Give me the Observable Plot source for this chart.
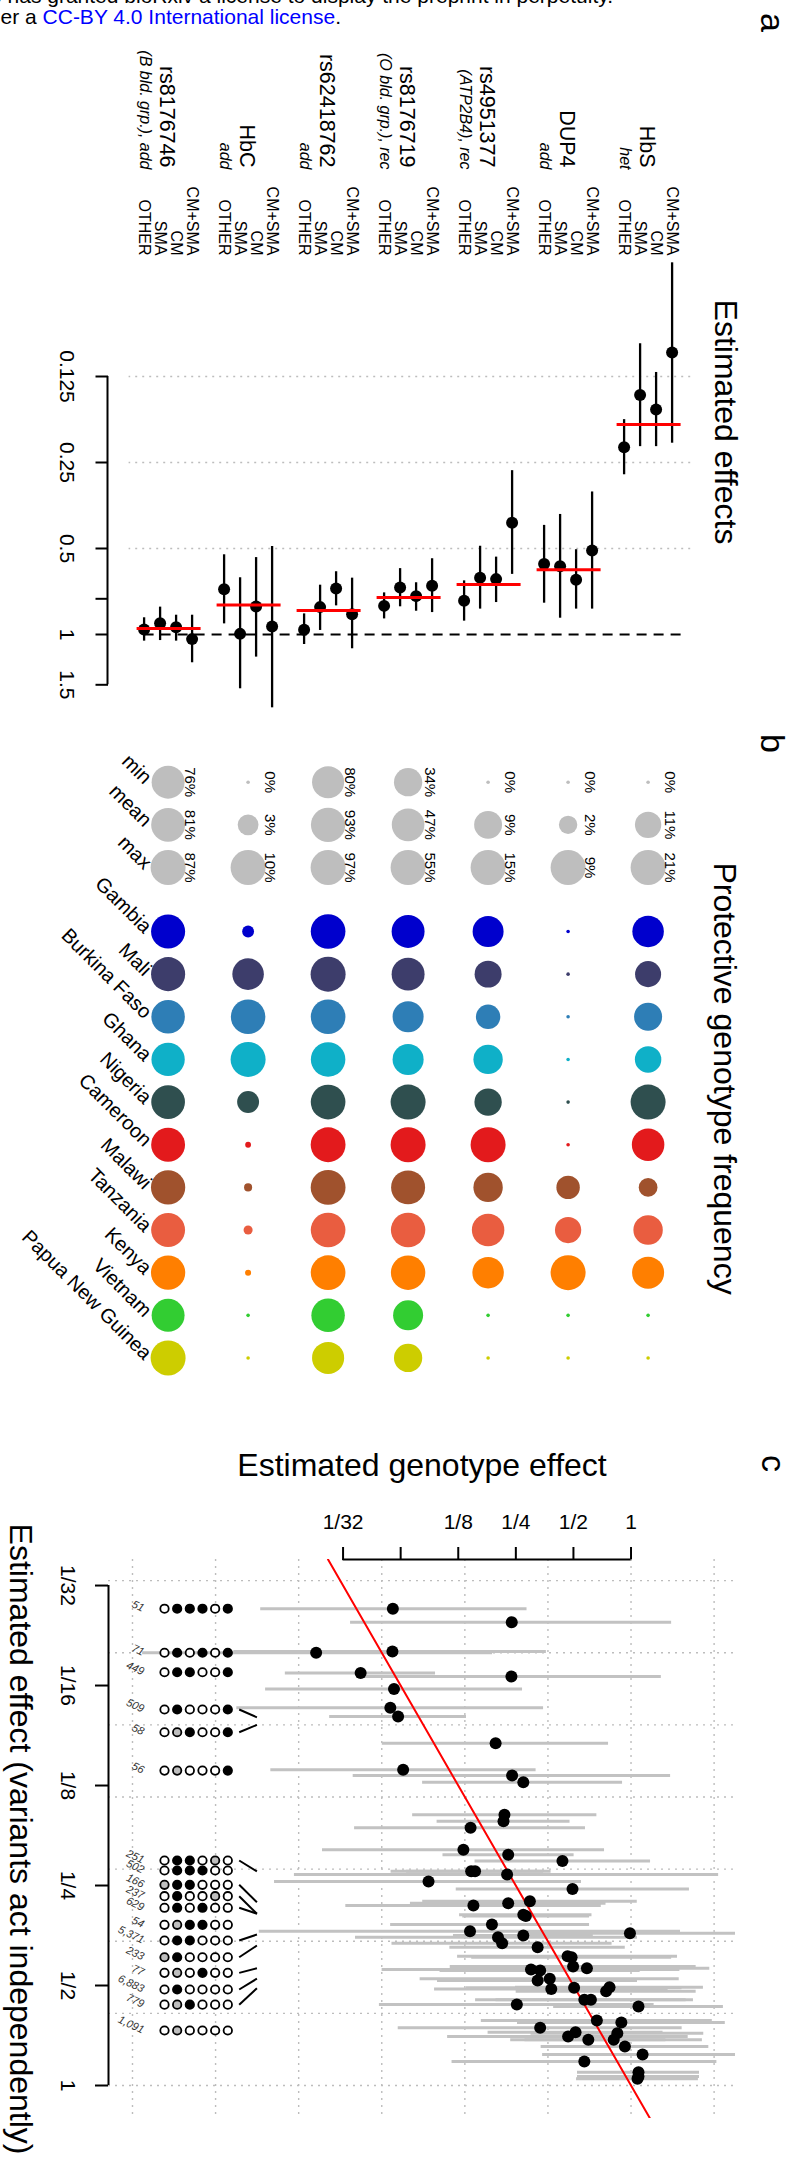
<!DOCTYPE html>
<html>
<head>
<meta charset="utf-8">
<script src="https://cdn.jsdelivr.net/npm/d3@7"></script>
<script src="https://cdn.jsdelivr.net/npm/@observablehq/plot@0.6"></script>
<style>
  html, body { margin: 0; padding: 0; background: #fff; }
  body { width: 796px; height: 2161px; position: relative; overflow: hidden;
         font-family: "Liberation Sans", Arial, Helvetica, sans-serif; }
  .panel { position: absolute; left: 0; }
  .rot { transform-origin: 0 0; transform: translate(796px, 0) rotate(90deg); }
  .layer { position: absolute; left: 0; top: 0; }
  .hdr { position: absolute; white-space: nowrap; font-size: 21px; line-height: 21px; color: #000; z-index: 5; }
  .hdr a { color: #0000ff; text-decoration: none; }
  svg g[aria-label$="axis tick"] { stroke-width: 2px; }
  svg .tick line { stroke-width: 2px; }
</style>
</head>
<body>
<div class="hdr" style="right:183px; top:-15px">The copyright holder for this preprint (which was not certified by peer review) is the author/funder, who has granted bioRxiv a license to display the preprint in perpetuity.</div>
<div class="hdr" style="right:455px; top:5.5px">It is made available under a <a>CC-BY 4.0 International license</a>.</div>
<div id="pa" class="panel rot" style="top:0px; width:720px; height:796px"></div>
<div id="pb" class="panel rot" style="top:720px; width:670px; height:796px"></div>
<div id="pc" class="panel" style="top:1390px; width:796px; height:771px"></div>
<script>
// ================= DATA =================
// Panel a: estimated effects (odds ratios) per variant, outcome order = outcomes
const variants = ["HbS", "DUP4", "rs4951377", "rs8176719", "rs62418762", "HbC", "rs8176746"];
const variantNotes = ["het", "add", "(ATP2B4), rec", "(O bld. grp.), rec", "add", "add", "(B bld. grp.), add"];
const outcomes = ["CM+SMA", "CM", "SMA", "OTHER"];
const effEst = [
  [0.103, 0.163, 0.145, 0.221],
  [0.508, 0.643, 0.577, 0.567],
  [0.406, 0.640, 0.633, 0.762],
  [0.675, 0.734, 0.685, 0.794],
  [0.849, 0.690, 0.802, 0.963],
  [0.938, 0.798, 0.995, 0.694],
  [1.038, 0.943, 0.913, 0.961]
];
const effLo = [
  [0.050, 0.121, 0.096, 0.177],
  [0.317, 0.505, 0.380, 0.415],
  [0.267, 0.536, 0.491, 0.649],
  [0.543, 0.659, 0.588, 0.715],
  [0.635, 0.603, 0.672, 0.847],
  [0.492, 0.538, 0.633, 0.526],
  [0.856, 0.856, 0.802, 0.874]
];
const effHi = [
  [0.214, 0.220, 0.220, 0.276],
  [0.815, 0.815, 0.877, 0.777],
  [0.616, 0.773, 0.815, 0.898],
  [0.838, 0.829, 0.800, 0.882],
  [1.122, 0.794, 0.968, 1.084],
  [1.806, 1.200, 1.549, 0.918],
  [1.256, 1.055, 1.050, 1.055]
];
const effCombined = [0.184, 0.594, 0.668, 0.742, 0.824, 0.789, 0.953];
const effTicks = [0.125, 0.25, 0.5, 0.75, 1, 1.5];
const effTickLabels = ["0.125", "0.25", "0.5", "", "1", "1.5"];
const effGrid = [0.125, 0.25, 0.5];

// Panel b: protective genotype frequency (%)
const countries = ["Gambia", "Mali", "Burkina Faso", "Ghana", "Nigeria", "Cameroon", "Malawi", "Tanzania", "Kenya", "Vietnam", "Papua New Guinea"];
const countryColors = ["#0000cd", "#3d3d6b", "#2e7eb6", "#0fb0c8", "#2f4f4f", "#e31a1c", "#a0522d", "#e95d40", "#ff7f00", "#32cd32", "#cdcd00"];
const summaryCols = ["min", "mean", "max"];
const pctMin = [0, 0, 0, 34, 80, 0, 76];
const pctMean = [11, 2, 9, 47, 93, 3, 81];
const pctMax = [21, 9, 15, 55, 97, 10, 87];
const freqHbS = [16.6, 10.7, 12.7, 11.1, 21, 17.8, 4.9, 14.2, 17.2, 0, 0];
const freqDUP4 = [0, 0, 0, 0, 0, 0, 3.6, 4.7, 9, 0, 0];
const freqRs4951377 = [11.4, 8.3, 6.6, 10.1, 8.6, 15, 10.1, 12.7, 11.8, 0, 0];
const freqRs8176719 = [48, 48, 42, 42, 55, 55, 51.5, 53, 53, 39, 34];
const freqRs62418762 = [95, 97, 95, 94, 95, 96, 96, 95, 95, 88, 80];
const freqHbC = [0.7, 7.9, 9.7, 10, 3.4, 0.05, 0.2, 0.3, 0.06, 0, 0];
const freqRs8176746 = [82, 82, 79, 78, 80, 81, 83, 81, 83, 76, 87];
const freqByVariant = [freqHbS, freqDUP4, freqRs4951377, freqRs8176719, freqRs62418762, freqHbC, freqRs8176746];

// Panel c: genotype effect vs effect assuming independent action
const genoEst = [0.0569, 0.238, 0.0226, 0.0566, 0.0386, 0.237, 0.0577, 0.0552, 0.0606, 0.196, 0.0644, 0.239, 0.2735, 0.218, 0.2155, 0.145, 0.133, 0.228, 0.438, 0.146, 0.153, 0.225, 0.0874, 0.4945, 0.150, 0.228, 0.296, 0.2735, 0.282, 0.1875, 0.144, 0.987, 0.2735, 0.2017, 0.212, 0.325, 0.466, 0.489, 0.498, 0.588, 0.30, 0.335, 0.376, 0.325, 0.383, 0.504, 0.772, 0.741, 0.570, 0.617, 0.253, 1.094, 0.663, 0.890, 0.335, 0.513, 0.469, 0.848, 0.812, 0.598, 0.929, 1.149, 0.570, 1.094, 1.081, 1.094];
const genoLo = [0.0116, 0.0342, 0.0028, 0.0084, 0.0156, 0.039, 0.0123, 0.0087, 0.0266, 0.0501, 0.0131, 0.0353, 0.0814, 0.0722, 0.0969, 0.0359, 0.0244, 0.104, 0.153, 0.0557, 0.0671, 0.0174, 0.0137, 0.122, 0.0323, 0.0703, 0.0815, 0.127, 0.132, 0.0554, 0.0114, 0.291, 0.118, 0.0363, 0.0563, 0.113, 0.124, 0.147, 0.1135, 0.134, 0.050, 0.1004, 0.079, 0.0974, 0.094, 0.138, 0.249, 0.251, 0.154, 0.197, 0.0484, 0.394, 0.165, 0.255, 0.0607, 0.179, 0.110, 0.30, 0.279, 0.235, 0.339, 0.345, 0.116, 0.525, 0.519, 0.525];
const genoHi = [0.286, 1.63, 0.189, 0.361, 0.0951, 1.44, 0.271, 0.349, 0.138, 0.763, 0.319, 1.61, 0.903, 0.663, 0.480, 0.578, 0.727, 0.504, 1.265, 0.382, 0.349, 2.87, 0.551, 2.02, 0.699, 0.740, 1.078, 0.625, 0.607, 0.607, 1.814, 3.56, 0.635, 1.081, 0.796, 0.933, 1.75, 1.63, 2.19, 2.58, 1.80, 1.116, 1.786, 1.081, 1.563, 1.847, 2.39, 2.19, 2.12, 1.94, 1.32, 3.04, 2.66, 3.11, 1.85, 1.47, 1.99, 2.40, 2.36, 1.52, 2.55, 3.83, 2.81, 2.28, 2.25, 2.28];
const indepEst = [0.0367, 0.0403, 0.0498, 0.0494, 0.0573, 0.0587, 0.064, 0.0729, 0.0775, 0.0933, 0.112, 0.1166, 0.1222, 0.153, 0.160, 0.1675, 0.195, 0.202, 0.211, 0.2265, 0.2265, 0.2317, 0.243, 0.256, 0.287, 0.2826, 0.279, 0.306, 0.309, 0.3275, 0.343, 0.348, 0.3536, 0.358, 0.373, 0.3835, 0.408, 0.411, 0.438, 0.4435, 0.4475, 0.4506, 0.4768, 0.483, 0.512, 0.508, 0.506, 0.520, 0.552, 0.552, 0.570, 0.578, 0.637, 0.646, 0.670, 0.691, 0.712, 0.696, 0.728, 0.728, 0.763, 0.807, 0.847, 0.912, 0.955, 0.940];
const fracTicks = [1/32, 1/16, 1/8, 1/4, 1/2, 1];
const xFracLabels = ["1/32", "", "1/8", "1/4", "1/2", "1"];
const yFracLabels = ["1/32", "1/16", "1/8", "1/4", "1/2", "1"];
// genotype combinations shown on the left (1 = protective homozygous, g = heterozygous, 0 = none)
const comboCounts = ["51", "71", "449", "509", "58", "56", "251", "502", "166", "237", "629", "54", "5,371", "233", "77", "6,883", "779", "1,091"];
const comboPatterns = ["011101", "010101", "011001", "010001", "0g1001", "0g0001", "0110g0", "011100", "g11000", "0100g0", "010100", "0g1100", "011000", "g10000", "0g0100", "010000", "0g1000", "0g0000"];
const comboRowEffect = [0.0367, 0.0498, 0.0570, 0.0738, 0.0864, 0.1127, 0.2102, 0.2253, 0.2488, 0.2692, 0.2917, 0.3283, 0.366, 0.411, 0.458, 0.514, 0.571, 0.683];
const comboPointEffect = [null, null, null, 0.0779, 0.0821, null, 0.2268, null, 0.2806, 0.304, 0.304, null, 0.3512, 0.379, 0.4435, 0.4768, 0.5095, null];

// ================= LAYOUT / STYLE =================
const FONT = '"Liberation Sans", Arial, Helvetica, sans-serif';
const baseStyle = {background: "transparent", fontFamily: FONT, fontSize: "21px", color: "black", overflow: "visible"};
const rowDomain = [-7.7125, 35.2875];   // slot units (4 outcome rows + 1 gap per variant)
const rowRange = [0, 688];
const gridStyle = {stroke: "#bdbdbd", strokeWidth: 1.4, strokeDasharray: "2 5"};

// ================= PANEL A =================
const ptsA = [];
variants.forEach((v, g) => outcomes.forEach((o, k) => ptsA.push({
  variant: v, outcome: o, slot: g * 5 + k, est: effEst[g][k], lo: effLo[g][k], hi: effHi[g][k]
})));
const groupsA = variants.map((v, g) => ({variant: v, note: variantNotes[g], slot0: g * 5, comb: effCombined[g]}));
const effTickLabel = new Map(effTicks.map((t, i) => [t, effTickLabels[i]]));

const plotA = Plot.plot({
  width: 720, height: 796,
  marginLeft: 376, marginRight: 35.7, marginTop: 0, marginBottom: 108,
  style: baseStyle,
  x: {type: "log", base: 2, domain: [effTicks[0], effTicks[effTicks.length - 1]], axis: "bottom",
      ticks: effTicks, tickFormat: d => effTickLabel.get(d) ?? "", tickSize: 12.5, tickPadding: 20, label: null},
  y: {domain: rowDomain, range: rowRange, axis: null},
  marks: [
    Plot.ruleX(effGrid, {y1: -1.1, y2: 34, ...gridStyle}),
    Plot.ruleX([1], {y1: -0.5, y2: 33.5, stroke: "black", strokeWidth: 2.2, strokeDasharray: "10 7"}),
    Plot.ruleY([rowDomain[1]], {x1: effTicks[0], x2: effTicks[effTicks.length - 1], stroke: "black", strokeWidth: 2}),
    Plot.ruleY(ptsA, {y: "slot", x1: "lo", x2: "hi", stroke: "black", strokeWidth: 2.3}),
    Plot.dot(ptsA, {x: "est", y: "slot", r: 6, fill: "black"}),
    Plot.ruleX(groupsA, {x: "comb", y1: d => d.slot0 - 0.5, y2: d => d.slot0 + 3.5, stroke: "#ff0000", strokeWidth: 3}),
    Plot.text(ptsA, {y: "slot", text: "outcome", frameAnchor: "left", dx: -121, textAnchor: "end", fontSize: 16}),
    Plot.text(groupsA, {y: d => d.slot0 + 1.55, text: "variant", frameAnchor: "left", dx: -209, textAnchor: "end", fontSize: 21.5}),
    Plot.text(groupsA, {y: d => d.slot0 + 2.95, text: "note", frameAnchor: "left", dx: -207, textAnchor: "end", fontSize: 16, fontStyle: "italic"}),
    Plot.text(["Estimated effects"], {frameAnchor: "top-left", dx: 45.5, dy: 81, lineAnchor: "bottom", textAnchor: "middle", fontSize: 32}),
    Plot.text(["a"], {frameAnchor: "top-left", dx: -354, dy: 35, lineAnchor: "bottom", textAnchor: "middle", fontSize: 34})
  ]
});
document.getElementById("pa").append(plotA);

// ================= PANEL B =================
const cellsB = [];
variants.forEach((v, g) => {
  const mx = pctMax[g];
  [pctMin[g], pctMean[g], pctMax[g]].forEach((p, c) =>
    cellsB.push({slot: g * 5 + 1.5, col: c, rel: p / mx, fill: "#bebebe", label: p + "%"}));
  countries.forEach((cn, i) =>
    cellsB.push({slot: g * 5 + 1.5, col: 3.5 + i, rel: freqByVariant[g][i] / mx, fill: countryColors[i], label: null}));
});
const colsB = [
  ...summaryCols.map((s, i) => ({name: s, col: i})),
  ...countries.map((c, i) => ({name: c, col: 3.5 + i}))
];

const plotB = Plot.plot({
  width: 670, height: 796,
  marginLeft: 0, marginRight: 0, marginTop: 0, marginBottom: 108,
  style: baseStyle,
  x: {domain: [0, 1], range: [61.7, 104.35], axis: null},
  y: {domain: rowDomain, range: rowRange, axis: null},
  r: {type: "sqrt", domain: [0, 1], range: [1.8, 17.5]},
  marks: [
    Plot.dot(cellsB, {x: "col", y: "slot", r: "rel", fill: "fill"}),
    Plot.text(cellsB.filter(d => d.label), {x: "col", y: "slot", text: "label", dy: -17, lineAnchor: "bottom", fontSize: 15}),
    Plot.text(colsB, {x: "col", text: "name", frameAnchor: "bottom", dy: -36, dx: 3, rotate: -45, textAnchor: "end", fontSize: 20}),
    Plot.text(["Protective genotype frequency"], {frameAnchor: "top-left", dx: 358, dy: 81.5, lineAnchor: "bottom", textAnchor: "middle", fontSize: 32}),
    Plot.text(["b"], {frameAnchor: "top-left", dx: 23, dy: 35, lineAnchor: "bottom", textAnchor: "middle", fontSize: 34})
  ]
});
document.getElementById("pb").append(plotB);

// ================= PANEL C =================
const ptsC = genoEst.map((g, i) => ({geno: g, lo: genoLo[i], hi: genoHi[i], ind: indepEst[i]}));
const xDomC = [0.001857, 3.516];
const yDomC = [0.02609, 1.257];
const yRangeC = [169, 728];
const vGrid = d3.range(-6, 2).map(k => Math.exp(k));
const hGrid = d3.range(-3.5, 0.01, 0.5).map(k => Math.exp(k));
const xTickLabel = new Map(fracTicks.map((t, i) => [t, xFracLabels[i]]));
const yTickLabel = new Map(fracTicks.map((t, i) => [t, yFracLabels[i]]));

const plotC = Plot.plot({
  width: 796, height: 771,
  marginLeft: 108, marginRight: 61, marginTop: 169, marginBottom: 43,
  style: baseStyle,
  x: {type: "log", base: 2, domain: xDomC, axis: "top", ticks: fracTicks, tickFormat: d => xTickLabel.get(d) ?? "",
      tickSize: 13, tickPadding: 18, label: null},
  y: {type: "log", base: 2, domain: yDomC, range: yRangeC, axis: "left", ticks: fracTicks, tickFormat: d => yTickLabel.get(d) ?? "",
      tickSize: 13, tickPadding: 20, tickRotate: 90, label: null},
  marks: [
    Plot.ruleX(vGrid, gridStyle),
    Plot.ruleY(hGrid, gridStyle),
    Plot.ruleY([yDomC[0]], {x1: fracTicks[0], x2: fracTicks[fracTicks.length - 1], stroke: "black", strokeWidth: 2}),
    Plot.ruleX([xDomC[0]], {y1: fracTicks[0], y2: fracTicks[fracTicks.length - 1], stroke: "black", strokeWidth: 2}),
    Plot.ruleY(ptsC, {y: "ind", x1: "lo", x2: "hi", stroke: "#c2c2c2", strokeWidth: 3, clip: true}),
    Plot.line(yDomC, {x: d => d, y: d => d, stroke: "#ff0000", strokeWidth: 2, clip: true}),
    Plot.dot(ptsC, {x: "geno", y: "ind", r: 6, fill: "black"}),
    Plot.text(["Estimated genotype effect"], {frameAnchor: "top-left", dx: 313.5, dy: -84, lineAnchor: "bottom", textAnchor: "middle", fontSize: 32}),
    Plot.text(["Estimated effect (variants act independently)"], {frameAnchor: "left", dx: -99, rotate: 90, lineAnchor: "bottom", textAnchor: "middle", fontSize: 32}),
    Plot.text(["c"], {frameAnchor: "top-left", dx: 653, dy: -96, rotate: 90, lineAnchor: "bottom", textAnchor: "middle", fontSize: 34})
  ]
});

// genotype-combination key (overlay sharing the same y scale)
const comboRows = comboCounts.map((c, i) => ({count: c, pattern: comboPatterns[i], eff: comboRowEffect[i], target: comboPointEffect[i]}));
const comboCells = [];
comboRows.forEach(r => r.pattern.split("").forEach((s, j) =>
  comboCells.push({col: j, eff: r.eff, fill: s === "1" ? "black" : s === "g" ? "#bebebe" : "white"})));
const plotKey = Plot.plot({
  width: 796, height: 771,
  marginLeft: 0, marginRight: 0, marginTop: 169, marginBottom: 43,
  style: baseStyle,
  x: {domain: [0, 1], range: [164, 176.66], axis: null},
  y: {type: "log", domain: yDomC, range: yRangeC, axis: null},
  marks: [
    Plot.dot(comboCells, {x: "col", y: "eff", r: 4.2, fill: "fill", stroke: "black", strokeWidth: 1.8}),
    Plot.link(comboRows.filter(r => r.target != null), {x1: 5.9, x2: 7.3, y1: "eff", y2: "target", stroke: "black", strokeWidth: 2}),
    Plot.text(comboRows, {x: -1.65, y: "eff", text: "count", textAnchor: "end", rotate: 25, fontStyle: "italic", fontSize: 11, fill: "#333"})
  ]
});
const pc = document.getElementById("pc");
plotC.classList.add("layer");
plotKey.classList.add("layer");
pc.append(plotC);
pc.append(plotKey);
</script>
</body>
</html>
